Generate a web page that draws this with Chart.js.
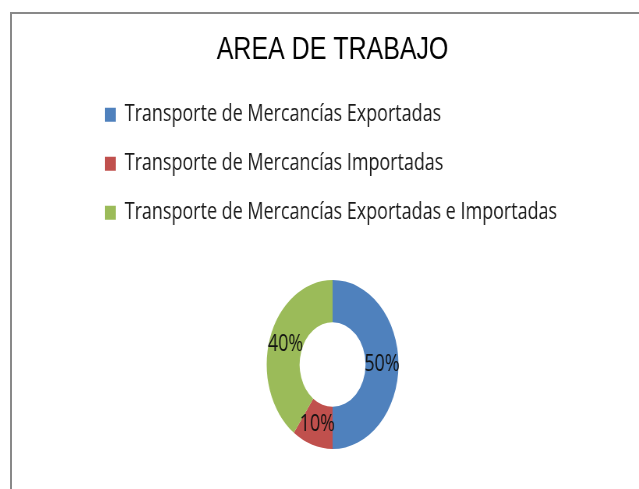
<!DOCTYPE html>
<html>
<head>
<meta charset="utf-8">
<script src="https://cdn.jsdelivr.net/npm/chart.js@4/dist/chart.umd.min.js"></script>
<style>
  html, body { margin: 0; padding: 0; background: #fff; width: 639px; height: 489px; overflow: hidden; }
  #frame { position: absolute; left: 10px; top: 12px; width: 700px; height: 600px;
           border-left: 2px solid #898989; border-top: 2px solid #898989; }
  #wrap { position: absolute; left: 12px; top: 14px; width: 822px; height: 500px;
          transform: scaleX(0.78); transform-origin: 0 0; }
</style>
</head>
<body>
<div id="frame"></div>
<div id="wrap"><canvas id="c"></canvas></div>
<script>
const chartTitle = 'AREA DE TRABAJO';
const categories = [
  'Transporte de Mercancías Exportadas',
  'Transporte de Mercancías Importadas',
  'Transporte de Mercancías Exportadas e Importadas'
];
const values = [50, 10, 40];
const colors = ['#4F81BD', '#C0504D', '#9BBB59'];

const pctLabels = {
  id: 'pctLabels',
  afterDatasetsDraw(chart) {
    const ctx = chart.ctx;
    const meta = chart.getDatasetMeta(0);
    const data = chart.data.datasets[0].data;
    const total = data.reduce((a, b) => a + b, 0);
    ctx.save();
    ctx.font = '23px "Open Sans"';
    ctx.fillStyle = '#111';
    ctx.textAlign = 'center';
    ctx.textBaseline = 'middle';
    meta.data.forEach((arc, i) => {
      const p = arc.tooltipPosition();
      ctx.fillText(Math.round(data[i] / total * 100) + '%', p.x, p.y);
    });
    ctx.restore();
  }
};

new Chart(document.getElementById('c'), {
  type: 'doughnut',
  data: {
    labels: categories,
    datasets: [{
      data: values,
      backgroundColor: colors,
      borderWidth: 0,
      radius: 84.5,
      cutout: '50%'
    }]
  },
  options: {
    responsive: true,
    maintainAspectRatio: false,
    animation: false,
    layout: { padding: { left: 93, right: 93, top: 0, bottom: 19.2 } },
    plugins: {
      title: {
        display: true,
        text: chartTitle,
        color: '#000',
        font: { family: '"Liberation Sans", Arial, sans-serif', size: 32, weight: 'normal', lineHeight: 1.2 },
        padding: { top: 17.4, bottom: 7.4 }
      },
      legend: {
        position: 'top',
        align: 'start',
        labels: {
          boxWidth: 14,
          boxHeight: 14,
          padding: 26,
          color: '#1a1a1a',
          font: { family: '"Open Sans", sans-serif', size: 23 }
        }
      },
      tooltip: { enabled: false }
    }
  },
  plugins: [pctLabels]
});
</script>
</body>
</html>
